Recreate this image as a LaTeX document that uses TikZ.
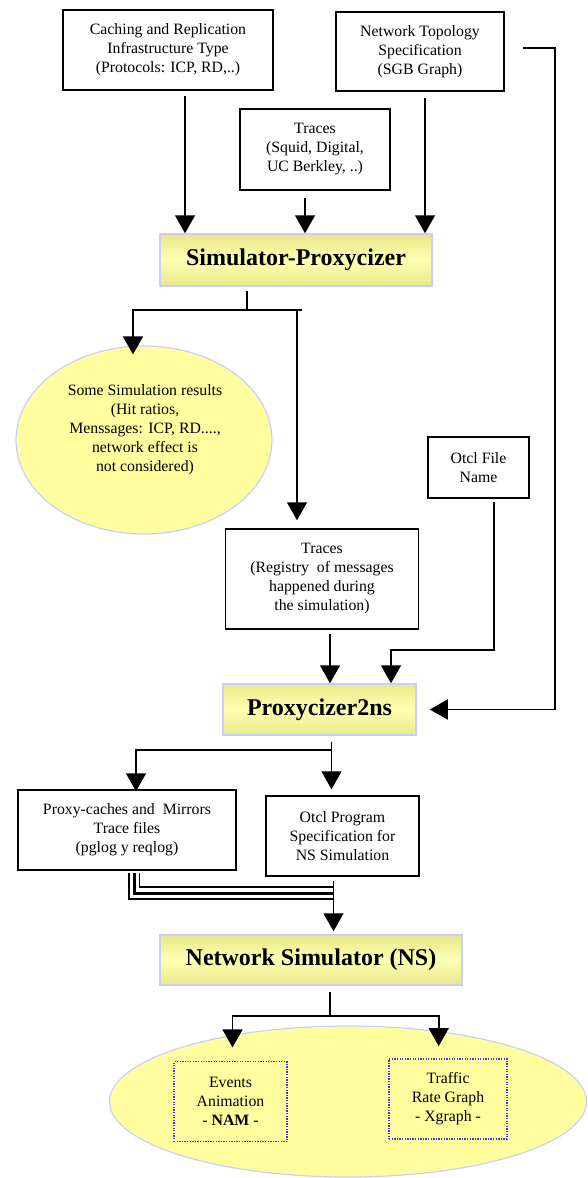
\documentclass[tikz,border=0pt]{standalone}
\usepackage{fontspec}
\setmainfont{Liberation Serif}
\usetikzlibrary{arrows.meta,shapes.geometric,calc}
\definecolor{lav}{RGB}{204,204,255}
\definecolor{ydark}{RGB}{232,232,138}
\definecolor{ylight}{RGB}{255,255,178}
\definecolor{efill}{RGB}{255,255,160}
\definecolor{dblue}{RGB}{60,60,230}
\begin{document}
\begin{tikzpicture}[x=1pt,y=-1pt,
 txt/.style={font=\fontsize{15.8}{19}\selectfont, align=center, inner sep=0pt},
 pbox/.style={txt, draw, line width=1.5pt, rectangle},
 ybox/.style={draw=lav, line width=1.5pt, top color=ydark, bottom color=ydark, middle color=ylight, font=\fontsize{24}{28}\selectfont\bfseries, inner sep=0pt},
 ellbox/.style={ellipse, draw=lav, line width=1.2pt, fill=efill, inner sep=0pt},
 conn/.style={line width=1.6pt},
 arr/.style={conn, -{Triangle[width=20pt,length=18pt]}},
 dbox/.style={txt, draw=dblue, line width=1.2pt, dash pattern=on 1.3pt off 1.3pt}]
\useasboundingbox (0,0) rectangle (588,1178);

% nodes
\node[pbox, minimum width=210pt, minimum height=80pt] (cache) at (168,50) {Caching and Replication\\Infrastructure Type\\(Protocols: ICP, RD,..)};
\node[pbox, minimum width=168pt, minimum height=79pt] (topo) at (420,51.5) {Network Topology\\Specification\\(SGB Graph)};
\node[pbox, minimum width=150pt, minimum height=81pt] (tr1) at (315,149.5) {Traces\\(Squid, Digital,\\UC Berkley, ..)};
\node[ybox, minimum width=272pt, minimum height=52pt] (sim) at (296,260) {Simulator-Proxycizer};
\node[ellbox, minimum width=256pt, minimum height=188pt] (res) at (144,440) {};
\node[txt] (restxt) at (145,430) {Some Simulation results\\(Hit ratios,\\Menssages: ICP, RD....,\\network effect is\\not considered)};
\node[pbox, minimum width=101pt, minimum height=61pt] (otclf) at (478.5,467.5) {Otcl File\\Name};
\node[pbox, minimum width=193pt, minimum height=100pt] (tr2) at (322,579) {Traces\\(Registry\ \ of messages\\happened during\\the simulation)};
\node[ybox, minimum width=193pt, minimum height=51pt] (p2ns) at (319.5,709.5) {Proxycizer2ns};
\node[pbox, minimum width=218pt, minimum height=80pt] (proxy) at (127,830) {Proxy-caches and\ \ Mirrors\\Trace files\\(pglog y reqlog)};
\node[pbox, minimum width=153pt, minimum height=80pt] (otclp) at (342.5,836) {Otcl Program\\Specification for\\NS Simulation};
\node[ybox, minimum width=302pt, minimum height=50pt] (ns) at (311,960) {Network Simulator (NS)};
\node[ellbox, minimum width=477pt, minimum height=151pt] (out) at (348,1101.5) {};
\node[dbox, minimum width=113pt, minimum height=80pt] (nam) at (230.5,1101.7) {Events\\Animation\\- \textbf{NAM} -};
\node[dbox, minimum width=118pt, minimum height=80pt] (xg) at (448,1099) {Traffic\\Rate Graph\\- Xgraph -};

% inputs to simulator
\draw[arr] ([xshift=17pt,yshift=-5pt]cache.south) -- ([xshift=17pt]cache.south |- sim.north);
\draw[arr] ([xshift=-10pt,yshift=-7pt]tr1.south) -- ([xshift=-10pt]tr1.south |- sim.north);
\draw[arr] ([xshift=5pt,yshift=-6pt]topo.south) -- ([xshift=5pt]topo.south |- sim.north);

% topology to proxycizer2ns
\coordinate (t1) at (555,48);
\draw[arr, shorten >=13pt] ([xshift=18pt,yshift=3.5pt]topo.east) -- (t1) |- (p2ns.east);

% simulator outputs
\coordinate (s1) at (247,310);
\coordinate (sl) at (133,310);
\coordinate (sr) at (297,310);
\coordinate (se) at (302,310);
\draw[conn] ([yshift=-4pt]sim.south -| s1) -- (s1);
\draw[arr] (se) -- (sl) -- ([yshift=-9pt]sl |- res.north);
\draw[arr] (sl) -- (sr) -- ([yshift=8pt]sr |- tr2.north);

% otcl file name and traces to proxycizer2ns
\coordinate (o1) at (391,650);
\draw[arr] ([xshift=15.5pt,yshift=-3pt]otclf.south) |- (o1) -- (o1 |- p2ns.north);
\draw[arr] ([xshift=8pt,yshift=-4pt]tr2.south) -- ([xshift=8pt]tr2.south |- p2ns.north);

% proxycizer2ns outputs
\coordinate (p1) at (331.5,750);
\coordinate (pl) at (136,750);
\draw[arr] ([yshift=-6pt]p2ns.south -| p1) -- ([yshift=6pt]p1 |- otclp.north);
\draw[arr] (p1) -- (pl) -- ([yshift=-2pt]pl |- proxy.north);

% triple line from proxy-caches
\coordinate (st) at (333.5,880);
\draw[line width=1.5pt] ([xshift=2pt,yshift=-2pt]proxy.south) |- ([yshift=-19pt]st);
\draw[line width=3pt] ([xshift=7pt,yshift=-2pt]proxy.south) |- ([yshift=-13.5pt]st);
\draw[line width=1.5pt] ([xshift=12.5pt,yshift=-2pt]proxy.south) |- ([yshift=-7pt]st);
\draw[arr] (st |- otclp.south) ++(0,4) -- ([yshift=3pt]st |- ns.north);

% network simulator outputs
\coordinate (n1) at (330,1016);
\coordinate (nl) at (232.5,1016);
\coordinate (nr) at (438.7,1016);
\draw[conn] ([yshift=-6pt]ns.south -| n1) -- (n1);
\draw[arr] (nr) -- (nl) -- ([yshift=13.7pt]nl |- nam.north);
\draw[arr] (nl) -- (nr) -- ([yshift=12.3pt]nr |- xg.north);
\end{tikzpicture}
\end{document}
